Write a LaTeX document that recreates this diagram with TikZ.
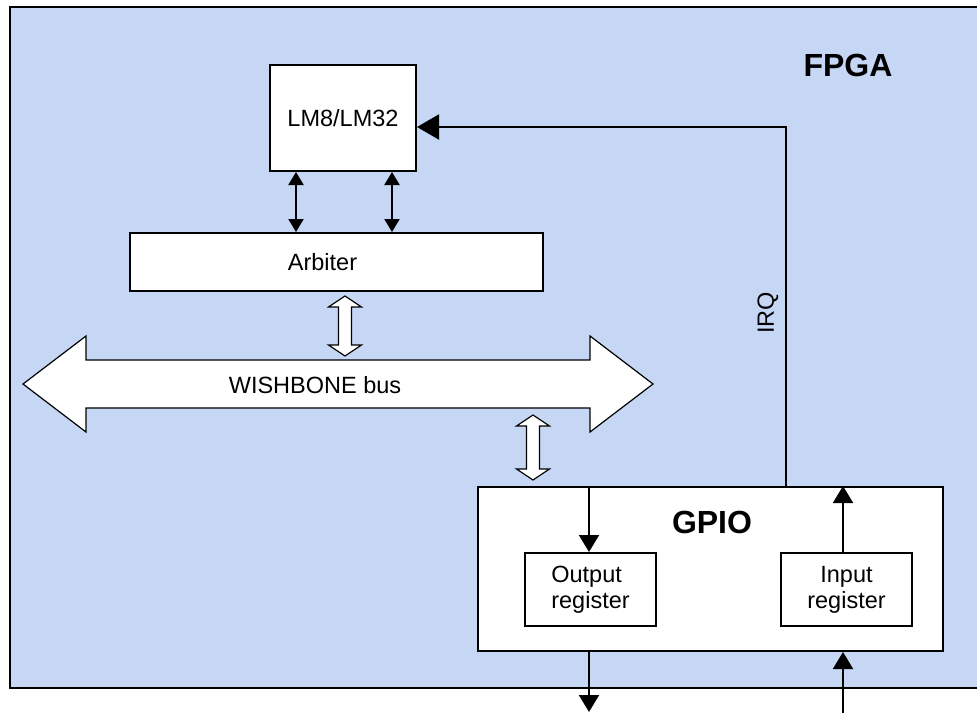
\documentclass[tikz,border=0pt]{standalone}
\usepackage{fontspec}
\setmainfont{Liberation Sans}
\usetikzlibrary{arrows.meta}
\definecolor{fpgablue}{RGB}{198,214,245}

\begin{document}
\begin{tikzpicture}[x=1pt,y=-1pt,
	blk/.style={draw,line width=2pt,fill=white,inner sep=0pt},
	txt/.style={font=\fontsize{23.5}{26}\selectfont},
	big/.style={font=\fontsize{32}{36}\selectfont\bfseries},
	wire/.style={line width=2pt},
	hollow/.style={draw,fill=white,line width=1.2pt,line join=miter}]
	\useasboundingbox (0,0) rectangle (977,713);
	
	%FPGA area
	\fill[fpgablue] (10,7) rectangle (977,688);
	\draw[line width=2.5pt] (977,7) -- (10,7) -- (10,688) -- (977,688);
	\node[big] (fpga) at (848,65) {FPGA};
	
	%blocks
	\node[blk,txt,minimum width=146pt,minimum height=106pt] (lm) at (343,118) {LM8/LM32};
	\node[blk,minimum width=413pt,minimum height=58pt] (arb) at (336.5,262) {};
	\node[txt] (arblbl) at ([xshift=-14pt]arb.center) {Arbiter};
	\node[blk,minimum width=465pt,minimum height=164pt] (gpio) at (710.5,569) {};
	\node[big] (gpiolbl) at (712,522) {GPIO};
	\node[blk,txt,align=left,minimum width=131pt,minimum height=73pt] (outreg) at (590.5,589.5) {Output\\register};
	\node[blk,txt,align=center,minimum width=131pt,minimum height=73pt] (inreg) at (846.5,589.5) {Input\\register};
	
	%WISHBONE bus
	\draw[hollow] (23,384) -- (86,336) -- (86,360) -- (590,360) -- (590,336) -- (653,384)
		-- (590,432) -- (590,408) -- (86,408) -- (86,432) -- cycle;
	\node[txt] (bus) at (315,385) {WISHBONE bus};
	
	%hollow arrows to and from the bus
	\foreach \x/\ya/\yb in {345/296/356,533/415/480}
		\draw[hollow] (\x,\ya) -- ++(16.5,11) -- ++(-10,0) -- (\x+6.5,\yb-11) -- ++(10,0)
			-- (\x,\yb) -- ++(-16.5,-11) -- ++(10,0) -- (\x-6.5,\ya+11) -- ++(-10,0) -- cycle;
	
	%LM8/LM32 <-> Arbiter
	\draw[wire,{Triangle[length=13pt,width=15pt]}-{Triangle[length=13pt,width=15pt]}]
		([xshift=-47pt]lm.south) -- ([xshift=-47pt]lm.south |- arb.north);
	\draw[wire,{Triangle[length=13pt,width=15pt]}-{Triangle[length=13pt,width=15pt]}]
		([xshift=49pt]lm.south) -- ([xshift=49pt]lm.south |- arb.north);
	
	%IRQ
	\coordinate (irq) at (786,127);
	\draw[wire,-{Triangle[length=22pt,width=25pt]}] (irq |- gpio.north) -- (irq) -- (irq -| lm.east);
	\node[txt,rotate=90] (irqlbl) at (768,313) {IRQ};
	
	%GPIO arrows
	\coordinate (outpin) at (589,712);
	\coordinate (inpin) at (843,713);
	\draw[wire,-{Triangle[length=17pt,width=20pt]}] (outpin |- gpio.north) -- (outpin |- outreg.north);
	\draw[wire,-{Triangle[length=17pt,width=20pt]}] (outpin |- gpio.south) -- (outpin);
	\draw[wire,-{Triangle[length=17pt,width=20pt]}] (inpin |- inreg.north) -- (inpin |- gpio.north);
	\draw[wire,-{Triangle[length=17pt,width=20pt]}] (inpin) -- (inpin |- gpio.south);
\end{tikzpicture}
\end{document}
